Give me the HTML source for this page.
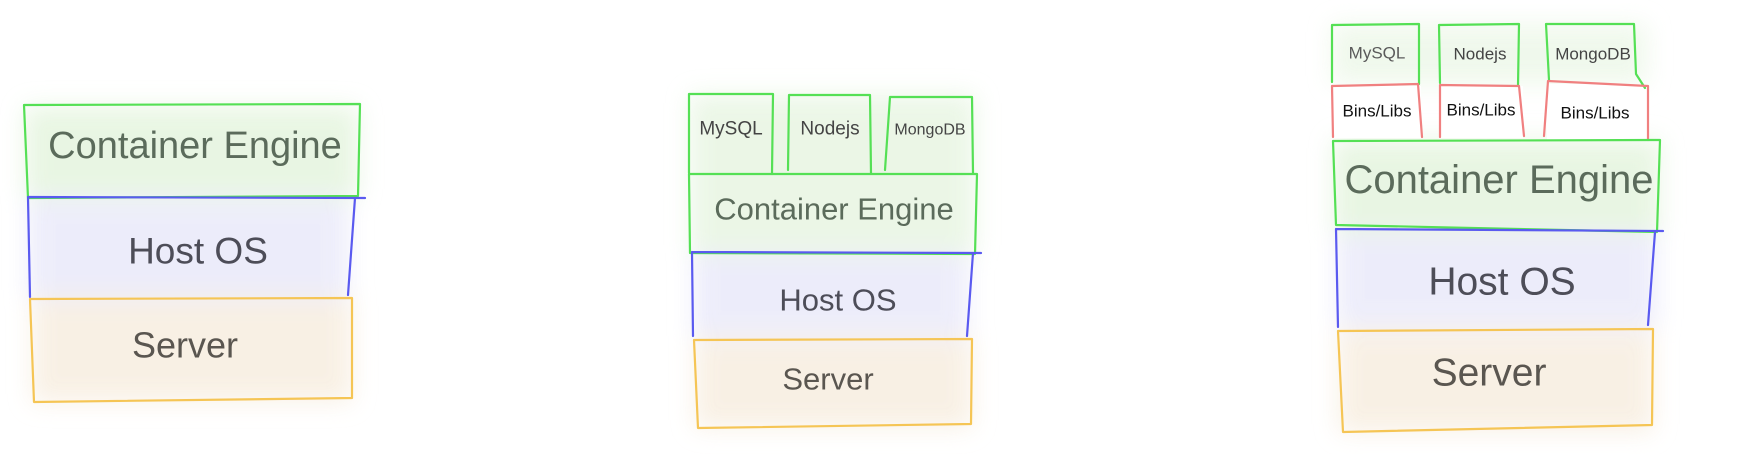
<!DOCTYPE html>
<html><head><meta charset="utf-8"><style>
html,body{margin:0;padding:0;background:#fff;}
svg{display:block}
text{font-family:"Liberation Sans","DejaVu Sans",sans-serif;text-anchor:middle;dominant-baseline:central}
</style></head><body>
<svg width="1746" height="454" viewBox="0 0 1746 454" xmlns="http://www.w3.org/2000/svg">
<defs><filter id="b" x="-20%" y="-20%" width="140%" height="140%"><feGaussianBlur stdDeviation="12"/></filter></defs>
<g filter="url(#b)" opacity="0.9">
<rect x="25" y="107" width="333" height="90" fill="#e6f5e0"/>
<rect x="28" y="198" width="320" height="100" fill="#ebebfa"/>
<rect x="32" y="298" width="320" height="104" fill="#f8efe2"/>
<rect x="690" y="95" width="285" height="158" fill="#e9f6e4"/>
<rect x="693" y="253" width="275" height="84" fill="#ebebfa"/>
<rect x="695" y="338" width="277" height="90" fill="#f8efe2"/>
<rect x="1332" y="24" width="315" height="60" fill="#eef8ea"/>
<rect x="1333" y="140" width="327" height="92" fill="#e6f5e0"/>
<rect x="1337" y="232" width="320" height="95" fill="#ebebfa"/>
<rect x="1338" y="330" width="315" height="102" fill="#f8efe2"/>
</g>
<rect x="1333" y="86" width="88" height="52" fill="#fff"/>
<rect x="1441" y="86" width="82" height="52" fill="#fff"/>
<rect x="1547" y="84" width="100" height="56" fill="#fff"/>
<g fill="none" stroke-width="2.2" stroke-linejoin="round" stroke-linecap="round">
<!-- Diagram 1 -->
<path d="M24 105 L360 104 L358 196 L28 198 Z" stroke="#55e055"/>
<path d="M28 197 L365 198 M355 198 L348 295 M28 198 L30 297" stroke="#5a5af0"/>
<path d="M30 299 L352 298 L352 398 L34 402 L30 299" stroke="#f5c555"/>
<!-- Diagram 2 -->
<path d="M689 94 L773 94 L772 174 M689 94 L689 173" stroke="#55e055"/>
<path d="M789 95 L870 95 L871 173 M789 95 L788 170" stroke="#55e055"/>
<path d="M890 97 L972 97 L973 173 M890 97 L885 170" stroke="#55e055"/>
<path d="M689 174 L977 174 L975 254 L690 253 Z" stroke="#55e055"/>
<path d="M692 252 L981 253 M973 253 L967 336 M692 252 L693 336" stroke="#5a5af0"/>
<path d="M694 340 L972 339 L971 424 L698 428 L694 340" stroke="#f5c555"/>
<!-- Diagram 3 -->
<path d="M1332 25 L1419 24 L1419 84 M1332 25 L1332 82" stroke="#55e055"/>
<path d="M1439 25 L1519 24 L1518 86 M1439 25 L1440 83" stroke="#55e055"/>
<path d="M1546 24 L1634 24 L1636 74 L1645 88 M1546 24 L1549 80" stroke="#55e055"/>
<path d="M1332 86 L1418 84 L1422 137 M1332 86 L1333 137" stroke="#f08080"/>
<path d="M1440 85 L1519 86 L1524 136 M1440 85 L1440 137" stroke="#f08080"/>
<path d="M1548 81 L1648 86 L1648 140 M1548 81 L1544 136" stroke="#f08080"/>
<path d="M1333 141 L1660 140 L1657 232 L1336 225 Z" stroke="#55e055"/>
<path d="M1336 229 L1663 231 M1655 232 L1648 325 M1336 229 L1338 327" stroke="#5a5af0"/>
<path d="M1338 331 L1653 329 L1652 425 L1343 432 L1338 331" stroke="#f5c555"/>
</g>
<g>
<text x="195" y="146" font-size="38" fill="#5b6b5b">Container Engine</text>
<text x="198" y="251" font-size="37" fill="#4d4d58">Host OS</text>
<text x="185" y="345" font-size="36" fill="#5a5650">Server</text>
<text x="731" y="129" font-size="19" fill="#444">MySQL</text>
<text x="830" y="129" font-size="19" fill="#444">Nodejs</text>
<text x="930" y="130" font-size="16" fill="#444">MongoDB</text>
<text x="834" y="209" font-size="31" fill="#5b6b5b">Container Engine</text>
<text x="838" y="300" font-size="31" fill="#4d4d58">Host OS</text>
<text x="828" y="379" font-size="31" fill="#5a5650">Server</text>
<text x="1377" y="53" font-size="17" fill="#5a5a5a">MySQL</text>
<text x="1480" y="54" font-size="17" fill="#444">Nodejs</text>
<text x="1593" y="54" font-size="17" fill="#444">MongoDB</text>
<text x="1377" y="111" font-size="17" fill="#111">Bins/Libs</text>
<text x="1481" y="110" font-size="17" fill="#111">Bins/Libs</text>
<text x="1595" y="113" font-size="17" fill="#111">Bins/Libs</text>
<text x="1499" y="180" font-size="40" fill="#5b6b5b">Container Engine</text>
<text x="1502" y="282" font-size="39" fill="#4d4d58">Host OS</text>
<text x="1489" y="373" font-size="39" fill="#5a5650">Server</text>
</g>
</svg>
</body></html>
